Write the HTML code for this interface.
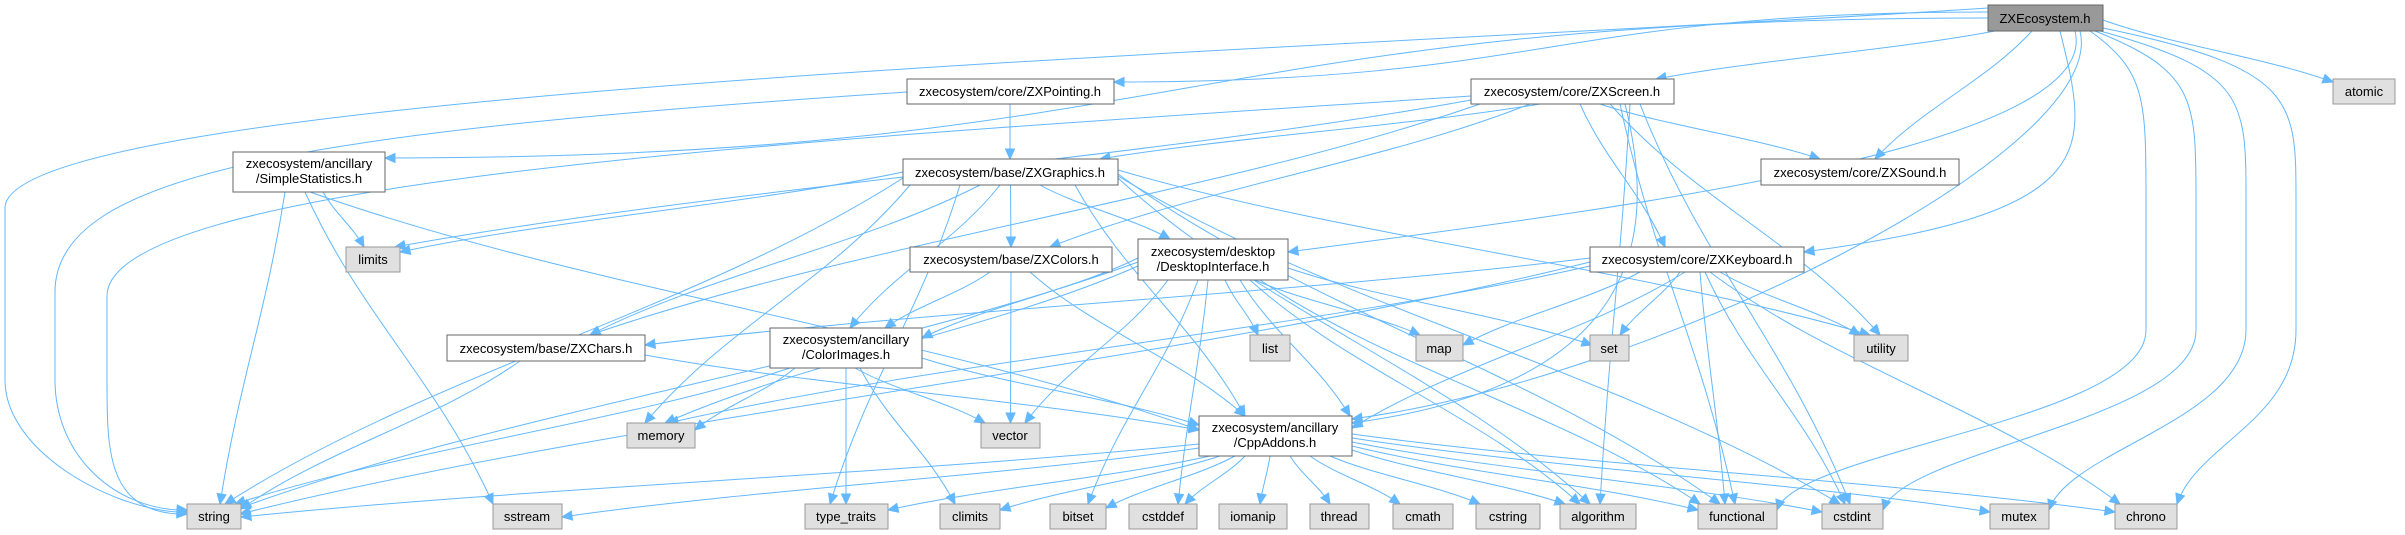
<!DOCTYPE html>
<html><head><meta charset="utf-8"><style>
html,body{margin:0;padding:0;background:#fff;width:2405px;height:535px;overflow:hidden}
svg{display:block}
text{font-family:"Liberation Sans",Arial,sans-serif;font-size:13px;fill:#000;text-anchor:middle}
</style></head><body>
<svg id="g" width="2405" height="535" viewBox="0 0 2405 535" xmlns="http://www.w3.org/2000/svg">
<g id="edges" fill="none" stroke="#63b8ff" stroke-width="1"></g>
<g id="arrows" fill="#63b8ff" stroke="#63b8ff"></g>
<g id="nodes" stroke-width="1">
<rect x="1988" y="5" width="115" height="26" fill="#999" stroke="#666"/><text x="2045" y="23">ZXEcosystem.h</text>
<rect x="907" y="79" width="207" height="25" fill="#fff" stroke="#666"/><text x="1010" y="96">zxecosystem/core/ZXPointing.h</text>
<rect x="1471" y="79" width="203" height="25" fill="#fff" stroke="#666"/><text x="1572" y="96">zxecosystem/core/ZXScreen.h</text>
<rect x="2333" y="79" width="62" height="25" fill="#e0e0e0" stroke="#999"/><text x="2364" y="96">atomic</text>
<rect x="233" y="152" width="152" height="40" fill="#fff" stroke="#666"/><text x="309" y="168">zxecosystem/ancillary</text><text x="309" y="183">/SimpleStatistics.h</text>
<rect x="903" y="159" width="215" height="26" fill="#fff" stroke="#666"/><text x="1010" y="177">zxecosystem/base/ZXGraphics.h</text>
<rect x="1761" y="159" width="198" height="26" fill="#fff" stroke="#666"/><text x="1860" y="177">zxecosystem/core/ZXSound.h</text>
<rect x="346" y="247" width="54" height="25" fill="#e0e0e0" stroke="#999"/><text x="373" y="264">limits</text>
<rect x="910" y="247" width="202" height="25" fill="#fff" stroke="#666"/><text x="1011" y="264">zxecosystem/base/ZXColors.h</text>
<rect x="1138" y="239" width="150" height="41" fill="#fff" stroke="#666"/><text x="1213" y="256">zxecosystem/desktop</text><text x="1213" y="271">/DesktopInterface.h</text>
<rect x="1590" y="247" width="214" height="25" fill="#fff" stroke="#666"/><text x="1697" y="264">zxecosystem/core/ZXKeyboard.h</text>
<rect x="447" y="335" width="198" height="26" fill="#fff" stroke="#666"/><text x="546" y="353">zxecosystem/base/ZXChars.h</text>
<rect x="770" y="328" width="152" height="40" fill="#fff" stroke="#666"/><text x="846" y="344">zxecosystem/ancillary</text><text x="846" y="359">/ColorImages.h</text>
<rect x="1250" y="335" width="40" height="26" fill="#e0e0e0" stroke="#999"/><text x="1270" y="353">list</text>
<rect x="1416" y="335" width="47" height="26" fill="#e0e0e0" stroke="#999"/><text x="1439" y="353">map</text>
<rect x="1590" y="335" width="39" height="26" fill="#e0e0e0" stroke="#999"/><text x="1609" y="353">set</text>
<rect x="1854" y="335" width="54" height="26" fill="#e0e0e0" stroke="#999"/><text x="1881" y="353">utility</text>
<rect x="627" y="423" width="68" height="25" fill="#e0e0e0" stroke="#999"/><text x="661" y="440">memory</text>
<rect x="981" y="423" width="59" height="25" fill="#e0e0e0" stroke="#999"/><text x="1010" y="440">vector</text>
<rect x="1199" y="416" width="153" height="40" fill="#fff" stroke="#666"/><text x="1275" y="432">zxecosystem/ancillary</text><text x="1275" y="447">/CppAddons.h</text>
<rect x="187" y="504" width="54" height="25" fill="#e0e0e0" stroke="#999"/><text x="214" y="521">string</text>
<rect x="493" y="504" width="69" height="25" fill="#e0e0e0" stroke="#999"/><text x="527" y="521">sstream</text>
<rect x="805" y="504" width="83" height="25" fill="#e0e0e0" stroke="#999"/><text x="846" y="521">type_traits</text>
<rect x="940" y="504" width="60" height="25" fill="#e0e0e0" stroke="#999"/><text x="970" y="521">climits</text>
<rect x="1050" y="504" width="56" height="25" fill="#e0e0e0" stroke="#999"/><text x="1078" y="521">bitset</text>
<rect x="1129" y="504" width="68" height="25" fill="#e0e0e0" stroke="#999"/><text x="1163" y="521">cstddef</text>
<rect x="1219" y="504" width="68" height="25" fill="#e0e0e0" stroke="#999"/><text x="1253" y="521">iomanip</text>
<rect x="1310" y="504" width="59" height="25" fill="#e0e0e0" stroke="#999"/><text x="1339" y="521">thread</text>
<rect x="1393" y="504" width="60" height="25" fill="#e0e0e0" stroke="#999"/><text x="1423" y="521">cmath</text>
<rect x="1476" y="504" width="64" height="25" fill="#e0e0e0" stroke="#999"/><text x="1508" y="521">cstring</text>
<rect x="1560" y="504" width="76" height="25" fill="#e0e0e0" stroke="#999"/><text x="1598" y="521">algorithm</text>
<rect x="1698" y="504" width="79" height="25" fill="#e0e0e0" stroke="#999"/><text x="1737" y="521">functional</text>
<rect x="1822" y="504" width="61" height="25" fill="#e0e0e0" stroke="#999"/><text x="1852" y="521">cstdint</text>
<rect x="1990" y="504" width="59" height="25" fill="#e0e0e0" stroke="#999"/><text x="2019" y="521">mutex</text>
<rect x="2115" y="504" width="62" height="25" fill="#e0e0e0" stroke="#999"/><text x="2146" y="521">chrono</text>
</g>
</svg>
<script>
var N={E:[1988,5,115,26],P:[907,79,207,25],S:[1471,79,203,25],atomic:[2333,79,62,25],SS:[233,152,152,40],G:[903,159,215,26],SND:[1761,159,198,26],limits:[346,247,54,25],C:[910,247,202,25],D:[1138,239,150,41],K:[1590,247,214,25],CH:[447,335,198,26],CI:[770,328,152,40],list:[1250,335,40,26],map:[1416,335,47,26],set:[1590,335,39,26],utility:[1854,335,54,26],memory:[627,423,68,25],vector:[981,423,59,25],A:[1199,416,153,40],string:[187,504,54,25],sstream:[493,504,69,25],type_traits:[805,504,83,25],climits:[940,504,60,25],bitset:[1050,504,56,25],cstddef:[1129,504,68,25],iomanip:[1219,504,68,25],thread:[1310,504,59,25],cmath:[1393,504,60,25],cstring:[1476,504,64,25],algorithm:[1560,504,76,25],functional:[1698,504,79,25],cstdint:[1822,504,61,25],mutex:[1990,504,59,25],chrono:[2115,504,62,25]};
var E=[
['E','P',[1988,12],[1114,82],'h'],['E','S',[1995,31],[1656,79]],['E','SS',[1988,18],[385,158],'h'],
['E','string',[1988,8],[187,512],'L',5],['E','D',[2075,31],[1288,252],'c'],['E','K',[2060,31],[1804,252],'c'],
['E','SND',[2032,31],[1875,159]],['E','A',[2080,31],[1352,419],'c'],['E','atomic',[2103,20],[2333,82]],
['E','functional',[2090,31],[1777,510],'v',2146],['E','cstdint',[2095,31],[1883,510],'v',2196],['E','mutex',[2100,31],[2049,510],'v',2246],['E','chrono',[2103,28],[2177,504],'v',2296],
['P','G',[1010,104],[1010,159]],['P','string',[907,92],[187,510],'L',55],
['S','G',[1540,104],[1100,159]],['S','C',[1530,104],[1050,247]],['S','CH',[1480,104],[590,335]],['S','string',[1471,96],[187,514],'L',107],
['S','limits',[1471,100],[395,247]],['S','SND',[1600,104],[1820,159]],['S','K',[1580,104],[1665,247]],['S','utility',[1610,104],[1880,335]],
['S','functional',[1620,104],[1735,504]],['S','cstdint',[1640,104],[1850,504]],['S','A',[1625,104],[1352,423],'c'],['S','algorithm',[1630,104],[1600,504]],
['G','limits',[903,172],[400,252]],['G','string',[903,178],[225,504]],['G','C'],['G','D',[1040,185],[1170,239]],['G','CH',[980,185],[590,335]],
['G','CI',[1000,185],[850,328]],['G','A',[1075,185],[1245,416]],['G','memory',[910,185],[645,423]],['G','type_traits',[960,185],[830,504]],
['G','utility',[1118,170],[1870,335]],['G','functional',[1118,174],[1720,504]],['G','cstdint',[1118,176],[1840,504]],['G','algorithm',[1118,178],[1590,504]],
['SS','limits',[323,192],[364,247]],['SS','string',[285,192],[220,504]],['SS','sstream',[305,192],[493,504]],['SS','A',[310,192],[1199,430]],
['C','CI',[990,272],[885,328]],['C','vector'],['C','A',[1030,272],[1245,416]],
['D','CI',[1138,258],[922,338]],['D','string',[1138,262],[240,508]],['D','memory',[1138,266],[665,423]],['D','vector',[1168,280],[1025,423]],['D','list',[1225,280],[1258,335]],
['D','map',[1255,280],[1420,335]],['D','set',[1288,268],[1592,345]],['D','bitset',[1198,280],[1088,504]],['D','cstddef',[1208,280],[1178,504]],
['D','A',[1240,280],[1350,416]],['D','algorithm',[1250,280],[1580,504]],['D','functional',[1260,280],[1700,504]],
['K','CH',[1590,258],[645,345]],['K','string',[1590,262],[240,514]],['K','map',[1640,272],[1463,345]],['K','set',[1680,272],[1620,335]],['K','utility',[1720,272],[1860,335]],
['K','functional',[1700,272],[1725,504]],['K','cstdint',[1705,272],[1845,504]],['K','chrono',[1710,272],[2120,504]],['K','A',[1685,272],[1352,428]],['K','memory',[1590,266],[668,423]],
['CI','memory',[795,368],[695,430]],['CI','vector',[855,368],[985,423]],['CI','string',[790,368],[235,504]],['CI','type_traits',[846,368],[846,504]],['CI','climits',[860,368],[955,504]],['CI','A',[922,358],[1199,425]],
['CH','string',[520,361],[241,509]],['CH','A',[645,355],[1199,430]],
['A','string',[1199,444],[241,517]],['A','sstream',[1199,448],[562,517]],['A','type_traits',[1210,456],[888,510]],['A','climits',[1220,456],[1000,510]],
['A','bitset',[1235,456],[1106,508]],['A','cstddef',[1245,456],[1185,504]],['A','iomanip',[1270,456],[1260,504]],['A','thread',[1290,456],[1330,504]],
['A','cmath',[1310,456],[1400,504]],['A','cstring',[1330,456],[1480,504]],['A','algorithm',[1352,450],[1565,504]],['A','functional',[1352,446],[1698,510]],
['A','cstdint',[1352,442],[1822,512]],['A','mutex',[1352,438],[1990,512]],['A','chrono',[1352,434],[2115,512]]
];
function c(n){var b=N[n];return [b[0]+b[2]/2,b[1],b[1]+b[3]];}
var eg=document.getElementById('edges'),ag=document.getElementById('arrows'),ns='http://www.w3.org/2000/svg';
E.forEach(function(e){
 var s=e[2],t=e[3];
 if(!s){var a=c(e[0]);s=[a[0],a[2]];}
 if(!t){var b=c(e[1]);t=[b[0],b[1]];}
 var d,c2,mode=e[4];
 if(mode==='L'){var X=e[5];d='M'+s[0]+','+s[1]+' C'+(s[0]-600)+','+(s[1]+40)+' '+X+','+(s[1]+80)+' '+X+','+(s[1]+200)+' L'+X+',380 C'+X+',450 '+(t[0]-80)+','+(t[1]-5)+' '+(t[0]-10)+','+t[1];c2=[t[0]-80,t[1]-5];}
 else if(mode==='v'){var X=e[5];d='M'+s[0]+','+s[1]+' C'+X+','+(s[1]+40)+' '+X+',100 '+X+',200 L'+X+',330 C'+X+',420 '+(t[0]+20)+','+(t[1]-60)+' '+t[0]+','+t[1];c2=[t[0]+20,t[1]-60];}
 else if(mode==='h'){c2=[(s[0]+t[0])/2,t[1]];d='M'+s[0]+','+s[1]+' C'+((s[0]+t[0])/2)+','+s[1]+' '+c2[0]+','+c2[1]+' '+t[0]+','+t[1];}
 else if(mode==='c'){c2=[t[0]+300,t[1]-40];d='M'+s[0]+','+s[1]+' C'+(s[0]+30)+','+(s[1]+120)+' '+c2[0]+','+c2[1]+' '+t[0]+','+t[1];}
 else {var dy=t[1]-s[1];c2=[t[0]-(t[0]-s[0])*0.3,t[1]-dy*0.4];d='M'+s[0]+','+s[1]+' C'+(s[0]+(t[0]-s[0])*0.3)+','+(s[1]+dy*0.4)+' '+c2[0]+','+c2[1]+' '+t[0]+','+t[1];}
 var dx=t[0]-c2[0],dyy=t[1]-c2[1],L=Math.hypot(dx,dyy)||1;dx/=L;dyy/=L;
 var bx=t[0]-dx*10,by=t[1]-dyy*10,px=-dyy*4.5,py=dx*4.5;
 var p=document.createElementNS(ns,'path');p.setAttribute('d',d);eg.appendChild(p);
 var q=document.createElementNS(ns,'polygon');q.setAttribute('points',t[0]+','+t[1]+' '+(bx+px)+','+(by+py)+' '+(bx-px)+','+(by-py));ag.appendChild(q);
});
</script>
</body></html>
